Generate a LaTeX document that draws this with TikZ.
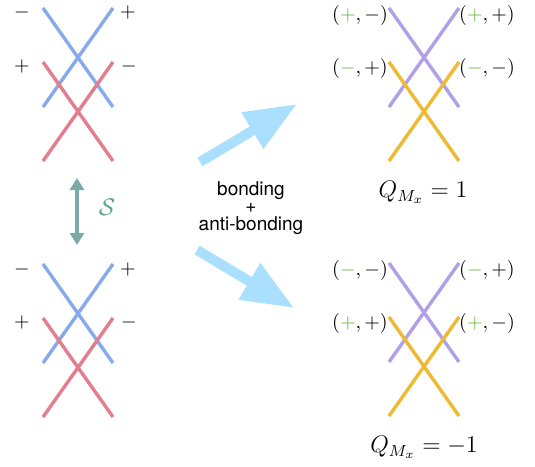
\documentclass[tikz,border=0pt]{standalone}
\usepackage{fontspec}
\newfontfamily\helv{TeX Gyre Heros}
\usetikzlibrary{arrows.meta}
\begin{document}
\begin{tikzpicture}[x=0.5pt,y=-0.5pt]
\definecolor{bleu}{RGB}{135,170,235}
\definecolor{rouge}{RGB}{226,126,142}
\definecolor{violet}{RGB}{176,160,232}
\definecolor{jaune}{RGB}{238,186,52}
\definecolor{ciel}{RGB}{170,224,254}
\definecolor{sarc}{RGB}{124,170,166}
\definecolor{slab}{RGB}{88,164,132}
\definecolor{vert}{RGB}{100,182,56}
\tikzset{
  ligne/.style={line width=1.7pt},
  signe/.style={font=\normalsize},
  fleche/.style={ciel,line width=5pt,-{Triangle[length=26pt,width=20pt]}},
  sym/.style={sarc,line width=2pt,{Triangle[length=6pt,width=7pt]}-{Triangle[length=6pt,width=7pt]}}
}
\useasboundingbox (0,0) rectangle (535,466);
% deux orbitales de depart
\foreach \y/\n in {8/a,264/b} {
  \coordinate (\n1) at (43,\y);     \coordinate (\n2) at (113,\y);
  \coordinate (\n3) at (43,\y+54);  \coordinate (\n4) at (113,\y+54);
  \coordinate (\n5) at (43,\y+99);  \coordinate (\n6) at (113,\y+99);
  \coordinate (\n7) at (43,\y+153); \coordinate (\n8) at (113,\y+153);
  \draw[ligne,bleu] (\n1) -- (\n6);
  \draw[ligne,bleu] (\n2) -- (\n5);
  \draw[ligne,rouge] (\n3) -- (\n8);
  \draw[ligne,rouge] (\n4) -- (\n7);
  \node[signe] (\n-tl) at (22,\y+5) {$-$};
  \node[signe] (\n-tr) at (128,\y+5) {$+$};
  \node[signe] (\n-ml) at (22,\y+58) {$+$};
  \node[signe] (\n-mr) at (129,\y+58) {$-$};
}
% combinaisons
\foreach \y/\n/\p/\q in {8/c/+/-,263/d/-/+} {
  \coordinate (\n1) at (389,\y);     \coordinate (\n2) at (459,\y);
  \coordinate (\n3) at (389,\y+54);  \coordinate (\n4) at (459,\y+54);
  \coordinate (\n5) at (389,\y+99);  \coordinate (\n6) at (459,\y+99);
  \coordinate (\n7) at (389,\y+153); \coordinate (\n8) at (459,\y+153);
  \draw[ligne,violet] (\n1) -- (\n6);
  \draw[ligne,violet] (\n2) -- (\n5);
  \draw[ligne,jaune] (\n3) -- (\n8);
  \draw[ligne,jaune] (\n4) -- (\n7);
  \node[signe] (\n-tl) at (360,\y+7) {$({\color{vert}\p},-)$};
  \node[signe] (\n-tr) at (487,\y+7) {$({\color{vert}\p},+)$};
  \node[signe] (\n-ml) at (360,\y+60) {$({\color{vert}\q},+)$};
  \node[signe] (\n-mr) at (487,\y+60) {$({\color{vert}\q},-)$};
}
\node[font=\large] (qc) at (423,192) {$Q_{M_x}=1$};
\node[font=\large] (qd) at (424,447) {$Q_{M_x}=-1$};
% symetrie S
\coordinate (s1) at (77,178);
\coordinate (s2) at (77,245);
\draw[sym] (s1) -- (s2);
\node[font=\large,text=slab] (sn) at (107,207) {$\mathcal{S}$};
% fleches
\coordinate (f1) at (200,162);
\coordinate (f2) at (297,104);
\coordinate (g1) at (197,250);
\coordinate (g2) at (294,308);
\draw[fleche] (f1) -- (f2);
\draw[fleche] (g1) -- (g2);
\node[align=center,font=\helv\fontsize{9.5}{8.8}\selectfont] (bab) at (251,208) {bonding\\+\\anti-bonding};
\end{tikzpicture}
\end{document}
